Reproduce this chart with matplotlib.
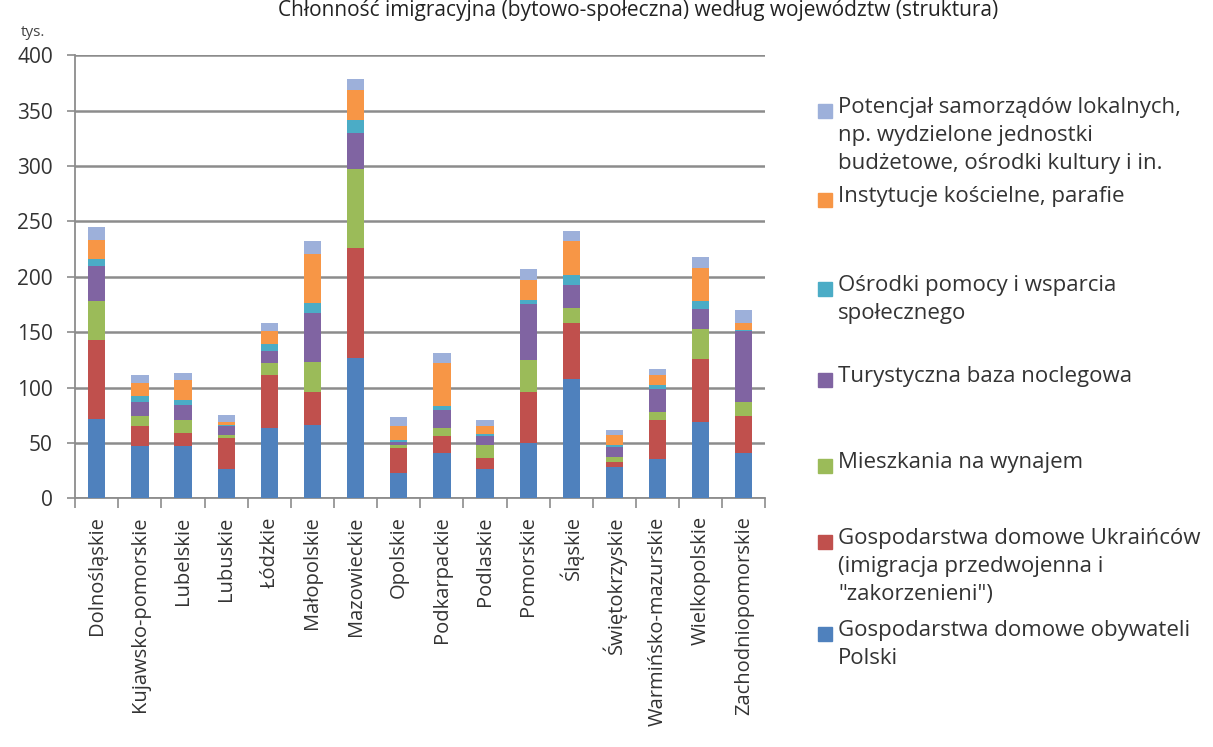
import matplotlib.pyplot as plt
import numpy as np
from matplotlib.patches import Rectangle

plt.rcParams['font.family'] = ['Open Sans', 'DejaVu Sans']

regions = ["Dolnośląskie", "Kujawsko-pomorskie", "Lubelskie", "Lubuskie", "Łódzkie",
           "Małopolskie", "Mazowieckie", "Opolskie", "Podkarpackie", "Podlaskie",
           "Pomorskie", "Śląskie", "Świętokrzyskie", "Warmińsko-mazurskie",
           "Wielkopolskie", "Zachodniopomorskie"]

# tys., bottom to top
obywatele = [72, 47, 47, 26, 63, 66, 127, 23, 41, 26, 50, 108, 28, 35, 69, 41]
ukraincy = [71, 18, 12, 28, 48, 30, 99, 22, 15, 10, 46, 50, 5, 36, 57, 33]
mieszkania = [35, 9, 12, 3, 11, 27, 71, 3, 7, 12, 29, 14, 4, 7, 27, 13]
turystyczna = [32, 13, 13, 8, 11, 44, 33, 3, 17, 8, 50, 21, 9, 21, 18, 64]
osrodki = [6, 5, 5, 1, 6, 9, 12, 2, 3, 2, 4, 9, 2, 3, 7, 1]
koscielne = [17, 12, 18, 3, 12, 45, 27, 12, 39, 7, 18, 30, 9, 9, 30, 6]
samorzady = [12, 7, 6, 6, 7, 11, 10, 8, 9, 6, 10, 9, 5, 6, 10, 12]

series = [obywatele, ukraincy, mieszkania, turystyczna, osrodki, koscielne, samorzady]
labels = ["Gospodarstwa domowe obywateli\nPolski",
          "Gospodarstwa domowe Ukraińców\n(imigracja przedwojenna i\n\"zakorzenieni\")",
          "Mieszkania na wynajem",
          "Turystyczna baza noclegowa",
          "Ośrodki pomocy i wsparcia\nspołecznego",
          "Instytucje kościelne, parafie",
          "Potencjał samorządów lokalnych,\nnp. wydzielone jednostki\nbudżetowe, ośrodki kultury i in."]
colors = ["#4F81BD", "#C0504D", "#9BBB59", "#8064A2", "#4BACC6", "#F79646", "#9DB0DA"]

fig = plt.figure(figsize=(12.13, 7.47), dpi=100)
ax = fig.add_axes([0.062, 0.333, 0.569, 0.593])

x = np.arange(len(regions))
bottom = np.zeros(len(regions))
for vals, col in zip(series, colors):
    ax.bar(x, vals, width=0.4, bottom=bottom, color=col, zorder=3)
    bottom += np.array(vals)

ax.set_xlim(-0.5, len(regions) - 0.5)
ax.set_ylim(0, 400)
ax.set_yticks(np.arange(0, 401, 50))
ax.tick_params(axis='y', labelsize=15, length=6, width=1.2, color='#8C8C8C', pad=10,
               labelcolor='#333333')
ax.set_xticks(x)
ax.set_xticklabels(regions, rotation=90, fontsize=14.5, color='#333333')
ax.set_xticks(np.arange(-0.5, len(regions)), minor=True)
ax.tick_params(axis='x', which='major', length=0, pad=13)
ax.tick_params(axis='x', which='minor', length=7, width=1.2, color='#8C8C8C')
ax.grid(axis='y', color='#8C8C8C', linewidth=1.8, zorder=0)
for s in ['top', 'right']:
    ax.spines[s].set_visible(False)
for s in ['left', 'bottom']:
    ax.spines[s].set_color('#8C8C8C')
    ax.spines[s].set_linewidth(1.3)

fig.text(0.526, 1.0, "Chłonność imigracyjna (bytowo-społeczna) według województw (struktura)",
         ha='center', va='top', fontsize=15, color='#222222')
fig.text(0.017, 0.952, "tys.", fontsize=11, color='#444444')

# legend, top entry first (pixel rows of the first line)
legend_y = [111, 200, 289, 380, 466, 542, 634]
for lab, col, yp in zip(labels[::-1], colors[::-1], legend_y):
    yf = 1 - yp / 747
    fig.patches.append(Rectangle((818 / 1213, yf - 0.0094), 0.0115, 0.0187,
                                 transform=fig.transFigure, color=col))
    fig.text(838 / 1213, yf + 0.0185, lab, ha='left', va='top', fontsize=16,
             color='#333333', linespacing=1.42)

fig.savefig("out.png", dpi=100)
